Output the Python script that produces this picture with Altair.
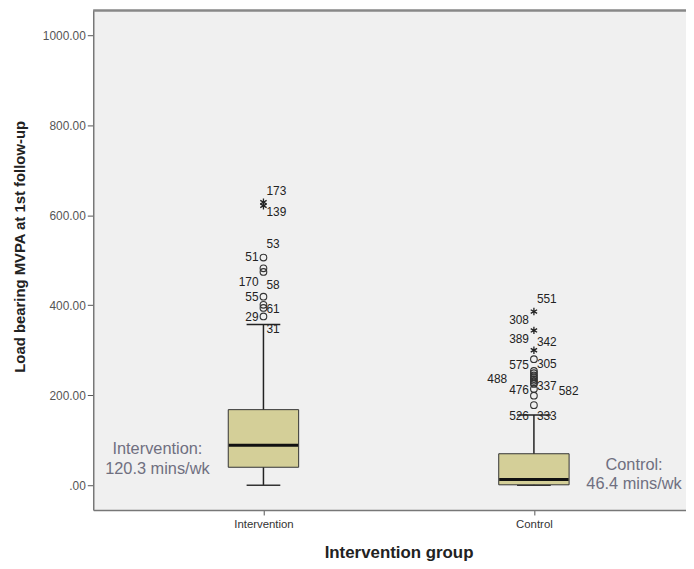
import altair as alt
import pandas as pd

# ---- summary statistics ----
groups = ["Intervention", "Control"]
group_pos = [1, 2]
q1 = [40, 1]
median = [89, 13]
q3 = [168, 70]
whisker_low = [0, 0]
whisker_high = [357, 156]

# ---- outliers ----
int_circles = [506, 482, 474, 419, 401, 394, 375]
int_stars = [629, 621]
ctl_circles = [280, 254, 249, 244, 240, 236, 232, 228, 225, 214, 199, 178]
ctl_stars = [386, 344, 300]

# ---- case labels ----
int_lab_left = ["51", "170", "55", "29"]
int_lab_left_y = [507, 452, 418, 374]
int_lab_right = ["173", "139", "53", "58", "61", "31"]
int_lab_right_y = [654, 608, 535, 445, 392, 348]
ctl_lab_left = ["308", "389", "575", "488", "476", "526"]
ctl_lab_left_y = [368, 324, 267, 236, 211, 154]
ctl_lab_left_lane = [0, 0, 0, 1, 0, 0]
ctl_lab_right = ["551", "342", "305", "337", "582", "333"]
ctl_lab_right_y = [414, 319, 269, 220, 209, 154]
ctl_lab_right_lane = [0, 0, 0, 0, 1, 0]

means = [120.3, 46.4]
mean_text = [["Intervention:", "120.3 mins/wk"], ["Control:", "46.4 mins/wk"]]

y_ticks = [0, 200, 400, 600, 800, 1000]

W, H = 598, 504
FONT = "Liberation Sans"

box_df = pd.DataFrame({"group": groups, "pos": group_pos, "q1": q1, "median": median,
                       "q3": q3, "lo": whisker_low, "hi": whisker_high})

out_rows = []
for v in int_circles:
    out_rows.append({"pos": 1, "v": v, "kind": "circle"})
for v in int_stars:
    out_rows.append({"pos": 1, "v": v, "kind": "star"})
for v in ctl_circles:
    out_rows.append({"pos": 2, "v": v, "kind": "circle"})
for v in ctl_stars:
    out_rows.append({"pos": 2, "v": v, "kind": "star"})
out_df = pd.DataFrame(out_rows)

lab_rows = []
for t, v in zip(int_lab_left, int_lab_left_y):
    lab_rows.append({"pos": 1, "v": v, "t": t, "side": "left", "lane": 0})
for t, v in zip(int_lab_right, int_lab_right_y):
    lab_rows.append({"pos": 1, "v": v, "t": t, "side": "right", "lane": 0})
for t, v, l in zip(ctl_lab_left, ctl_lab_left_y, ctl_lab_left_lane):
    lab_rows.append({"pos": 2, "v": v, "t": t, "side": "left", "lane": l})
for t, v, l in zip(ctl_lab_right, ctl_lab_right_y, ctl_lab_right_lane):
    lab_rows.append({"pos": 2, "v": v, "t": t, "side": "right", "lane": l})
lab_df = pd.DataFrame(lab_rows)

ann_df = pd.DataFrame({"pos": group_pos, "mean": means, "txt": mean_text})

x_scale = alt.Scale(domain=[0.389, 2.544], nice=False, zero=False)
y_scale = alt.Scale(domain=[-55, 1055], nice=False, zero=False)

x_axis = alt.Axis(values=group_pos, labelExpr="datum.value == 1 ? 'Intervention' : 'Control'",
                  title="Intervention group", grid=False, tickSize=5, tickColor="#555",
                  domainColor="#777", domainWidth=1.5, labelFont=FONT, labelFontSize=11.5,
                  labelColor="#333", labelPadding=4, titleFont=FONT, titleFontSize=17,
                  titleFontWeight="bold", titleColor="#222", titleX=308, titleY=43,
                  titleBaseline="middle", titleAnchor="start", titleAlign="center")
y_axis = alt.Axis(values=y_ticks, labelExpr="datum.value == 0 ? '.00' : format(datum.value, '.2f')",
                  title="Load bearing MVPA at 1st follow-up", grid=False, tickSize=6,
                  tickColor="#555", domainColor="#777", domainWidth=1.5, labelFont=FONT,
                  labelFontSize=12, labelColor="#555", labelPadding=2, titleFont=FONT,
                  titleFontSize=15, titleFontWeight="bold", titleColor="#222",
                  titleX=-74, titleY=238, titleAngle=-90, titleBaseline="middle",
                  titleAlign="center", titleAnchor="start")

base_box = alt.Chart(box_df)

whisker = base_box.mark_rule(color="#222", strokeWidth=1.5).encode(
    x=alt.X("pos:Q", scale=x_scale, axis=x_axis),
    y=alt.Y("lo:Q", scale=y_scale, axis=y_axis),
    y2="hi:Q")
caps_lo = base_box.mark_tick(orient="horizontal", size=34, thickness=1.5, color="#333",
                             opacity=1).encode(x="pos:Q", y="lo:Q")
caps_hi = base_box.mark_tick(orient="horizontal", size=34, thickness=1.5, color="#222",
                             opacity=1).encode(x="pos:Q", y="hi:Q")
box = base_box.mark_bar(size=71, orient="vertical", fill="#d4cf98", stroke="#333",
                        strokeWidth=1, opacity=1).encode(x="pos:Q", y="q1:Q", y2="q3:Q")
med = base_box.mark_tick(orient="horizontal", size=70, thickness=3, color="#111",
                         opacity=1).encode(x="pos:Q", y="median:Q")

circles = alt.Chart(out_df).transform_filter("datum.kind == 'circle'").mark_point(
    shape="circle", filled=False, size=45, color="#333", strokeWidth=1.1, opacity=1).encode(
    x="pos:Q", y="v:Q")
STAR = "M0,-1L0,1M-0.87,-0.5L0.87,0.5M-0.87,0.5L0.87,-0.5"
stars = alt.Chart(out_df).transform_filter("datum.kind == 'star'").mark_point(
    shape=STAR, filled=False, size=55, color="#222", strokeWidth=1.3, opacity=1).encode(
    x="pos:Q", y="v:Q")

def label_layer(side, lane, dx):
    return alt.Chart(lab_df).transform_filter(
        f"datum.side == '{side}' && datum.lane == {lane}").mark_text(
        align="right" if side == "left" else "left", baseline="middle", dx=dx,
        font=FONT, fontSize=12, color="#222").encode(x="pos:Q", y="v:Q", text="t:N")

labels = [label_layer("left", 0, -5), label_layer("left", 1, -27),
          label_layer("right", 0, 3), label_layer("right", 1, 25)]

ann_int = alt.Chart(ann_df).transform_filter("datum.pos == 1").mark_text(
    align="center", baseline="middle", dx=-107, dy=18, font=FONT, fontSize=16.5,
    lineHeight=20, color="#6f6f80").encode(x="pos:Q", y="mean:Q", text="txt")
ann_ctl = alt.Chart(ann_df).transform_filter("datum.pos == 2").mark_text(
    align="center", baseline="middle", dx=101, dy=1, font=FONT, fontSize=16.5,
    lineHeight=19, color="#6f6f80").encode(x="pos:Q", y="mean:Q", text="txt")

top_border = alt.Chart(box_df).mark_rule(color="#888", strokeWidth=2).encode(
    x=alt.value(0), x2=alt.value(W), y=alt.value(0))

chart = alt.layer(whisker, caps_lo, caps_hi, box, med, circles, stars, *labels,
                  ann_int, ann_ctl, top_border).properties(
    width=W, height=H,
    autosize=alt.AutoSizeParams(type="none"),
    padding={"left": 86, "top": 0, "right": 0, "bottom": 50},
).configure_view(fill="#f0f0f0", stroke=None)

chart.save("out.html", embed_options={"renderer": "svg", "actions": False})
